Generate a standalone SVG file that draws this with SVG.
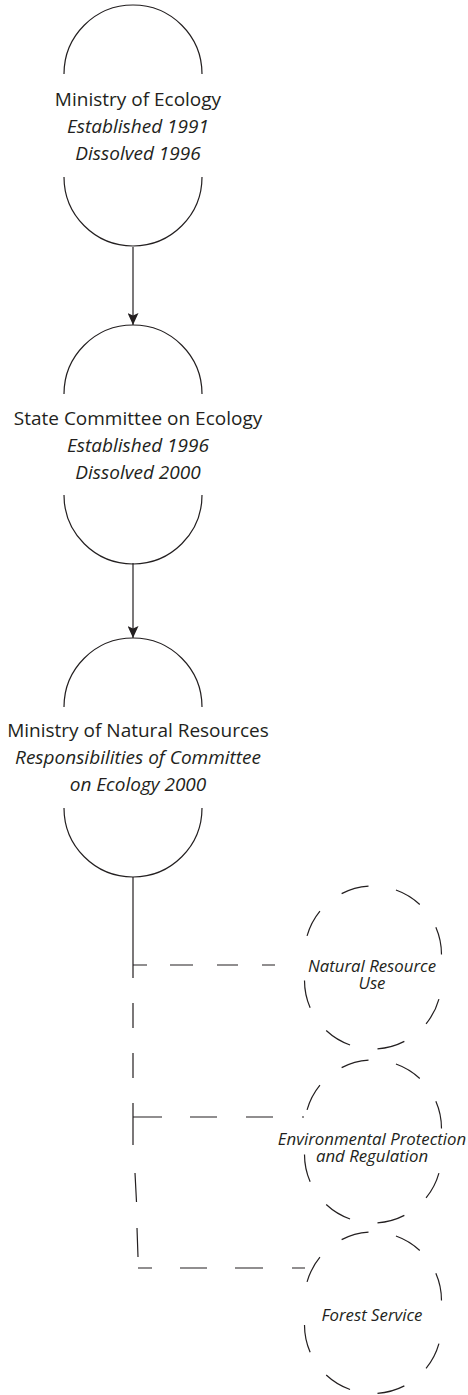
<svg xmlns="http://www.w3.org/2000/svg" width="468" height="1395" viewBox="0 0 468 1395">
<style>
.bg{fill:#ffffff}
.shape{fill:none;stroke:#231f20;stroke-width:1.2}
.dshape{fill:none;stroke:#231f20;stroke-width:1.2;stroke-dasharray:28 28}
.conn{fill:none;stroke:#231f20;stroke-width:1.2}
.t{font-family:"Open Sans","Noto Sans",sans-serif;font-size:19px;fill:#231f20;text-anchor:middle}
.ti{font-family:"Open Sans","Noto Sans",sans-serif;font-size:19px;font-style:italic;fill:#231f20;text-anchor:middle}
.s{font-family:"Open Sans","Noto Sans",sans-serif;font-size:16.8px;font-style:italic;fill:#231f20;text-anchor:middle}
</style>
<defs>
<marker id="arrow" viewBox="0 0 12 11" refX="12" refY="5.5" markerWidth="12" markerHeight="11" markerUnits="userSpaceOnUse" orient="auto">
<path d="M0,0 L12,5.5 L0,11 L2.5,5.5 z" fill="#231f20"/>
</marker>
</defs>
<rect class="bg" x="0" y="0" width="468" height="1395"/>

<g id="connectors">
<line class="conn" x1="133" y1="247" x2="133" y2="325" marker-end="url(#arrow)"/>
<line class="conn" x1="133" y1="563" x2="133" y2="638" marker-end="url(#arrow)"/>
<path class="conn" d="M133,877 L133,978 M133,1003 L133,1028 M133,1053 L133,1078 M133,1103 L133,1145 M135,1173 L136.5,1202 M137,1228 L138,1257"/>
<path class="conn" d="M133,965 L147,965 M170,965 L193,965 M217,965 L238,965 M262,965 L275,965"/>
<path class="conn" d="M133,1117 L162,1117 M190,1117 L217,1117 M246,1117 L273,1117 M302,1117 L304,1117"/>
<path class="conn" d="M138,1268 L152,1268 M180,1268 L207,1268 M235,1268 L263,1268 M292,1268 L305,1268"/>
</g>

<g id="node-ministry-ecology">
<path class="shape" d="M202,74 A69,69 0 0 0 64,74 M64,177 A69,69 0 0 0 202,177"/>
<text class="t" x="138" y="106">Ministry of Ecology</text>
<text class="ti" x="138" y="133">Established 1991</text>
<text class="ti" x="138" y="160">Dissolved 1996</text>
</g>

<g id="node-state-committee">
<path class="shape" d="M202,394 A69,69 0 0 0 64,394 M64,495 A69,69 0 0 0 202,495"/>
<text class="t" x="138" y="425">State Committee on Ecology</text>
<text class="ti" x="138" y="452">Established 1996</text>
<text class="ti" x="138" y="479">Dissolved 2000</text>
</g>

<g id="node-ministry-natural-resources">
<path class="shape" d="M202,707 A69,69 0 0 0 64,707 M64,808 A69,69 0 0 0 202,808"/>
<text class="t" x="138" y="737">Ministry of Natural Resources</text>
<text class="ti" x="138" y="764">Responsibilities of Committee</text>
<text class="ti" x="138" y="791">on Ecology 2000</text>
</g>

<g id="node-natural-resource-use">
<path class="dshape" d="M441.5,954.5 A68.5,68.5 0 0 0 304.5,954.5"/>
<path class="dshape" d="M304.5,980.5 A68.5,68.5 0 0 0 441.5,980.5"/>
<text class="s"><tspan x="372" y="971.5">Natural Resource</tspan><tspan x="372" y="988.5">Use</tspan></text>
</g>

<g id="node-environmental-protection">
<path class="dshape" d="M441.5,1128.5 A68.5,68.5 0 0 0 304.5,1128.5"/>
<path class="dshape" d="M304.5,1154.5 A68.5,68.5 0 0 0 441.5,1154.5"/>
<text class="s"><tspan x="372" y="1144.5">Environmental Protection</tspan><tspan x="372" y="1161.5">and Regulation</tspan></text>
</g>

<g id="node-forest-service">
<path class="dshape" d="M441.5,1300.5 A68.5,68.5 0 0 0 304.5,1300.5"/>
<path class="dshape" d="M304.5,1325 A68.5,68.5 0 0 0 441.5,1325"/>
<text class="s" x="372" y="1320.5">Forest Service</text>
</g>
</svg>
